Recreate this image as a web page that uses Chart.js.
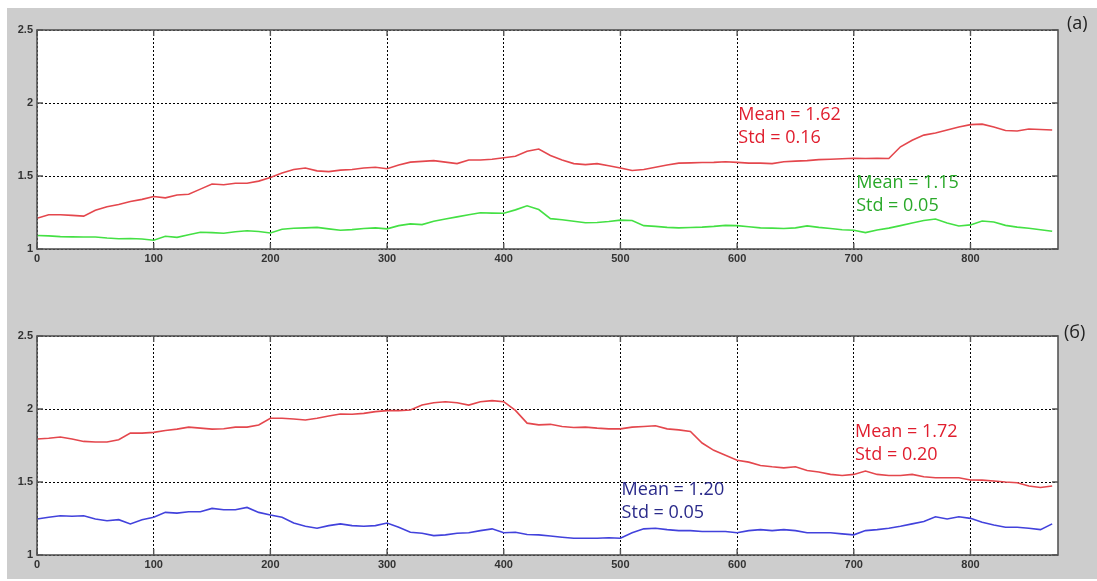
<!DOCTYPE html>
<html>
<head>
<meta charset="utf-8">
<script src="https://cdn.jsdelivr.net/npm/chart.js@4"></script>
<style>
  html, body { margin:0; padding:0; background:#ffffff; }
  #bg { position:absolute; left:7px; top:8px; width:1090px; height:571px; background:#cdcdcd; }
  .cv { position:absolute; left:0; }
  #c1 { top:0; }
  #c2 { top:306px; }
  .lbl { position:absolute; font-family:"Open Sans", sans-serif; font-size:18px; color:#222; }
</style>
</head>
<body>
<div id="bg"></div>
<div class="cv" id="c1" style="width:1097px;height:272px"><canvas id="chartA"></canvas></div>
<div class="cv" id="c2" style="width:1097px;height:272px"><canvas id="chartB"></canvas></div>
<div class="lbl" style="left:1067px;top:10px">(a)</div>
<div class="lbl" style="left:1064px;top:319px">(б)</div>
<script>
// x positions (samples)
const xValues = [0,10,20,30,40,50,60,70,80,90,100,110,120,130,140,150,160,170,180,190,200,210,220,230,240,250,260,270,280,290,300,310,320,330,340,350,360,370,380,390,400,410,420,430,440,450,460,470,480,490,500,510,520,530,540,550,560,570,580,590,600,610,620,630,640,650,660,670,680,690,700,710,720,730,740,750,760,770,780,790,800,810,820,830,840,850,860,870];

// Panel (a)
const redA = [1.21,1.235,1.235,1.23,1.225,1.265,1.29,1.305,1.325,1.34,1.36,1.35,1.37,1.375,1.41,1.445,1.44,1.45,1.45,1.465,1.49,1.52,1.545,1.555,1.535,1.53,1.54,1.545,1.555,1.56,1.55,1.575,1.595,1.6,1.605,1.595,1.585,1.61,1.61,1.615,1.625,1.635,1.67,1.685,1.64,1.61,1.585,1.578,1.585,1.57,1.555,1.538,1.545,1.56,1.575,1.588,1.59,1.592,1.593,1.598,1.593,1.588,1.588,1.585,1.598,1.602,1.605,1.612,1.615,1.618,1.622,1.62,1.622,1.62,1.70,1.745,1.78,1.795,1.815,1.835,1.852,1.855,1.835,1.812,1.808,1.822,1.818,1.815];
const greenA = [1.092,1.09,1.085,1.083,1.082,1.082,1.075,1.07,1.072,1.068,1.06,1.087,1.08,1.098,1.115,1.112,1.108,1.118,1.125,1.12,1.11,1.135,1.142,1.145,1.148,1.138,1.128,1.133,1.14,1.145,1.138,1.16,1.172,1.167,1.19,1.205,1.22,1.235,1.248,1.246,1.245,1.268,1.296,1.27,1.208,1.2,1.19,1.18,1.182,1.188,1.198,1.195,1.16,1.155,1.148,1.145,1.147,1.15,1.155,1.162,1.16,1.152,1.145,1.143,1.14,1.145,1.158,1.148,1.14,1.132,1.128,1.112,1.13,1.143,1.16,1.178,1.195,1.205,1.178,1.158,1.165,1.192,1.185,1.162,1.15,1.142,1.132,1.122];

// Panel (б)
const redB = [1.794,1.80,1.808,1.794,1.778,1.774,1.774,1.79,1.835,1.835,1.84,1.853,1.862,1.876,1.869,1.862,1.865,1.876,1.876,1.89,1.937,1.937,1.932,1.925,1.937,1.952,1.966,1.964,1.97,1.982,1.989,1.989,1.993,2.027,2.043,2.05,2.043,2.027,2.05,2.057,2.05,1.99,1.903,1.891,1.895,1.88,1.873,1.876,1.869,1.864,1.864,1.876,1.88,1.885,1.864,1.857,1.846,1.767,1.717,1.683,1.649,1.636,1.613,1.604,1.597,1.604,1.579,1.568,1.552,1.545,1.552,1.575,1.552,1.545,1.545,1.552,1.536,1.529,1.529,1.529,1.514,1.513,1.507,1.50,1.495,1.473,1.462,1.473];
const blueB = [1.247,1.258,1.269,1.265,1.269,1.247,1.235,1.242,1.213,1.242,1.258,1.292,1.287,1.296,1.296,1.319,1.31,1.31,1.326,1.292,1.274,1.258,1.219,1.197,1.183,1.201,1.213,1.201,1.197,1.201,1.219,1.19,1.156,1.149,1.133,1.138,1.149,1.152,1.167,1.179,1.152,1.156,1.14,1.138,1.13,1.122,1.115,1.115,1.115,1.118,1.115,1.152,1.179,1.183,1.174,1.167,1.167,1.161,1.161,1.161,1.152,1.167,1.174,1.167,1.174,1.167,1.152,1.152,1.152,1.145,1.138,1.167,1.174,1.183,1.197,1.213,1.229,1.262,1.247,1.262,1.251,1.224,1.206,1.19,1.19,1.183,1.174,1.213];

const xTicks = [0,100,200,300,400,500,600,700,800];
const yTicks = [1,1.5,2,2.5];
const yTickLabels = ["1","1.5","2","2.5"];
const xMax = 875;

const notesA = [
  { text: ["Mean = 1.62", "Std = 0.16"], x: 601, y: 1.92, color: "#e01e2e" },
  { text: ["Mean = 1.15", "Std = 0.05"], x: 702, y: 1.455, color: "#2aa92a" }
];
const notesB = [
  { text: ["Mean = 1.72", "Std = 0.20"], x: 701, y: 1.84, color: "#e01e2e" },
  { text: ["Mean = 1.20", "Std = 0.05"], x: 501, y: 1.445, color: "#2a2a8a" }
];

const framePlugin = {
  id: 'frame',
  beforeDraw(chart) {
    const a = chart.chartArea, ctx = chart.ctx;
    ctx.save();
    ctx.fillStyle = '#ffffff';
    ctx.fillRect(a.left, a.top, a.right - a.left, a.bottom - a.top);
    ctx.restore();
  },
  afterDatasetsDraw(chart) {
    const a = chart.chartArea, ctx = chart.ctx;
    const xs = chart.scales.x, ys = chart.scales.y;
    ctx.save();
    ctx.strokeStyle = '#555555';
    ctx.lineWidth = 1.6;
    ctx.strokeRect(a.left, a.top, a.right - a.left, a.bottom - a.top);
    ctx.lineWidth = 1.4;
    ctx.beginPath();
    xTicks.forEach(v => {
      const px = xs.getPixelForValue(v);
      ctx.moveTo(px, a.bottom); ctx.lineTo(px, a.bottom - 6);
      ctx.moveTo(px, a.top); ctx.lineTo(px, a.top + 6);
    });
    yTicks.forEach(v => {
      const py = ys.getPixelForValue(v);
      ctx.moveTo(a.left, py); ctx.lineTo(a.left + 6, py);
      ctx.moveTo(a.right, py); ctx.lineTo(a.right - 6, py);
    });
    ctx.stroke();
    // annotations
    const notes = chart.options.plugins.frame.notes || [];
    ctx.font = '18px "Open Sans", sans-serif';
    ctx.textBaseline = 'middle';
    ctx.textAlign = 'left';
    notes.forEach(n => {
      ctx.fillStyle = n.color;
      const px = xs.getPixelForValue(n.x);
      const py = ys.getPixelForValue(n.y);
      n.text.forEach((t, i) => ctx.fillText(t, px, py + i * 23));
    });
    ctx.restore();
  }
};

function makeChart(id, series, colors, notes) {
  return new Chart(document.getElementById(id), {
    type: 'line',
    data: {
      labels: xValues,
      datasets: series.map((s, i) => ({
        data: s.map((v, j) => ({ x: xValues[j], y: v })),
        borderColor: colors[i],
        borderWidth: 1.6,
        pointRadius: 0,
        tension: 0,
        fill: false
      }))
    },
    options: {
      responsive: true,
      maintainAspectRatio: false,
      animation: false,
      layout: { padding: { left: 0, right: 39, top: 30, bottom: 0 } },
      plugins: { legend: { display: false }, tooltip: { enabled: false }, frame: { notes } },
      scales: {
        x: {
          type: 'linear', min: 0, max: xMax,
          afterBuildTicks: s => { s.ticks = xTicks.map(v => ({ value: v })); },
          afterFit: s => { s.height = 23; },
          grid: { color: '#000000', lineWidth: 1, drawTicks: false },
          border: { display: false, dash: [2, 2] },
          ticks: { color: '#333333', font: { family: 'Arial, "Liberation Sans"', size: 11, weight: 'bold' }, padding: 3, maxRotation: 0, autoSkip: false,
                   callback: v => String(v) }
        },
        y: {
          type: 'linear', min: 1, max: 2.5,
          afterBuildTicks: s => { s.ticks = yTicks.map(v => ({ value: v })); },
          afterFit: s => { s.width = 37; },
          grid: { color: '#000000', lineWidth: 1, drawTicks: false },
          border: { display: false, dash: [2, 2] },
          ticks: { color: '#333333', font: { family: 'Arial, "Liberation Sans"', size: 11, weight: 'bold' }, padding: 4,
                   callback: v => { const k = yTicks.indexOf(v); return k >= 0 ? yTickLabels[k] : ''; } }
        }
      }
    },
    plugins: [framePlugin]
  });
}

makeChart('chartA', [redA, greenA], ['#e4474d', '#44e044'], notesA);
makeChart('chartB', [redB, blueB], ['#e4474d', '#4242dc'], notesB);
</script>
</body>
</html>
